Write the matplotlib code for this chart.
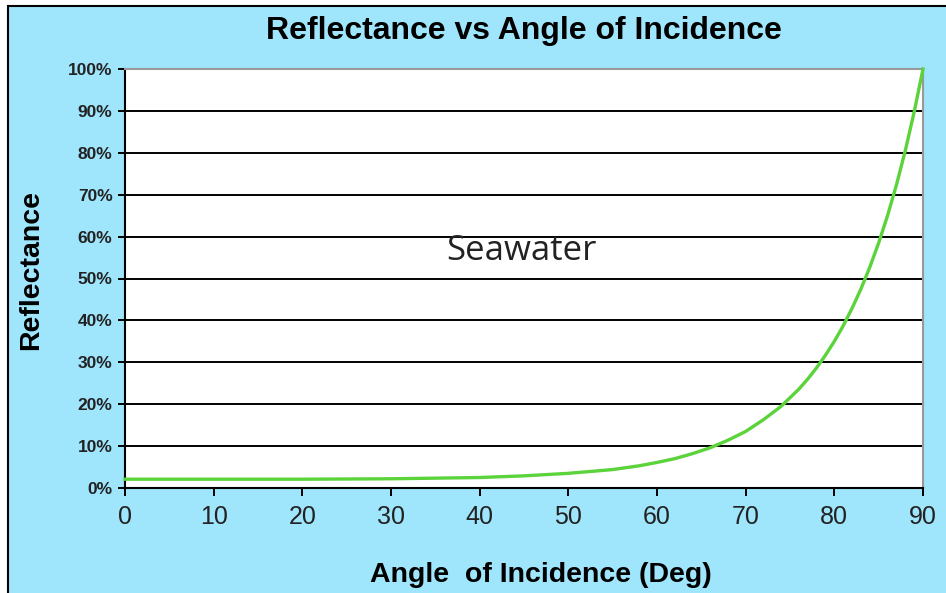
import matplotlib
matplotlib.use("Agg")
import matplotlib.pyplot as plt
from matplotlib.patches import Rectangle
from matplotlib.ticker import FuncFormatter

angles = [0, 10, 20, 30, 40, 45, 50, 55, 58, 60, 62, 64, 66, 68, 70, 72, 74, 76, 77, 78, 79,
          80, 81, 82, 83, 84, 85, 86, 87, 88, 89, 90]
reflectance = [2.1, 2.1, 2.1, 2.2, 2.5, 2.9, 3.5, 4.4, 5.3, 6.1, 7.0, 8.2, 9.6, 11.4, 13.5, 16.3,
               19.5, 23.6, 26.0, 28.7, 31.7, 35.0, 38.7, 42.9, 47.5, 52.7, 58.5, 65.0, 72.3,
               80.5, 89.7, 100.0]
x_ticks = [0, 10, 20, 30, 40, 50, 60, 70, 80, 90]
y_ticks = [0, 10, 20, 30, 40, 50, 60, 70, 80, 90, 100]

title = "Reflectance vs Angle of Incidence"
xlabel = "Angle  of Incidence (Deg)"
ylabel = "Reflectance"
annotation = "Seawater"

BG = "#9FE5FC"
GREEN = "#5BD33B"

plt.rcParams['font.family'] = ['Liberation Sans', 'DejaVu Sans']

fig = plt.figure(figsize=(9.46, 5.93), dpi=100)
fig.patch.set_facecolor("white")
fig.patches.append(Rectangle((8/946, -0.01), 1.0, 1 - 6/593 + 0.01, transform=fig.transFigure,
                             facecolor=BG, edgecolor="black", linewidth=1.5, zorder=-1))

ax = fig.add_axes([125/946, 1 - 488/593, (923-125)/946, (488-69)/593])
ax.set_facecolor("white")

ax.plot(angles, reflectance, color=GREEN, linewidth=2.4, zorder=3, clip_on=False,
        solid_joinstyle='round')

ax.set_xlim(0, 90)
ax.set_ylim(0, 100)
ax.set_xticks(x_ticks)
ax.set_yticks(y_ticks)
ax.yaxis.set_major_formatter(FuncFormatter(lambda v, p: f"{int(v)}%"))

ax.grid(axis='y', color='black', linewidth=1.4)
ax.set_axisbelow(True)

for s in ['left', 'bottom']:
    ax.spines[s].set_color('black')
    ax.spines[s].set_linewidth(1.5)
for s in ['top', 'right']:
    ax.spines[s].set_color('#999999')
    ax.spines[s].set_linewidth(1.5)

ax.tick_params(axis='y', direction='out', length=5, width=1.4, pad=4, labelsize=12.5)
ax.tick_params(axis='x', direction='out', length=6, width=1.4, pad=6, labelsize=18)
for lbl in ax.get_yticklabels():
    lbl.set_fontweight('bold')
    lbl.set_color('#222222')
for lbl in ax.get_xticklabels():
    lbl.set_color('#222222')

fig.text(524/946, 1 - 31/593, title, ha='center', va='center', fontsize=23, fontweight='bold')
fig.text(541/946, 1 - 575/593, xlabel, ha='center', va='center', fontsize=20.5, fontweight='bold')
fig.text(31/946, 1 - 270/593, ylabel, ha='center', va='center', fontsize=20.5, fontweight='bold', rotation=90)

ax.text(44.7, 56.5, annotation, ha='center', va='center', fontsize=25,
        family=['Open Sans', 'DejaVu Sans'], color='#222222')

fig.savefig("out.png", dpi=100, facecolor=fig.get_facecolor())
